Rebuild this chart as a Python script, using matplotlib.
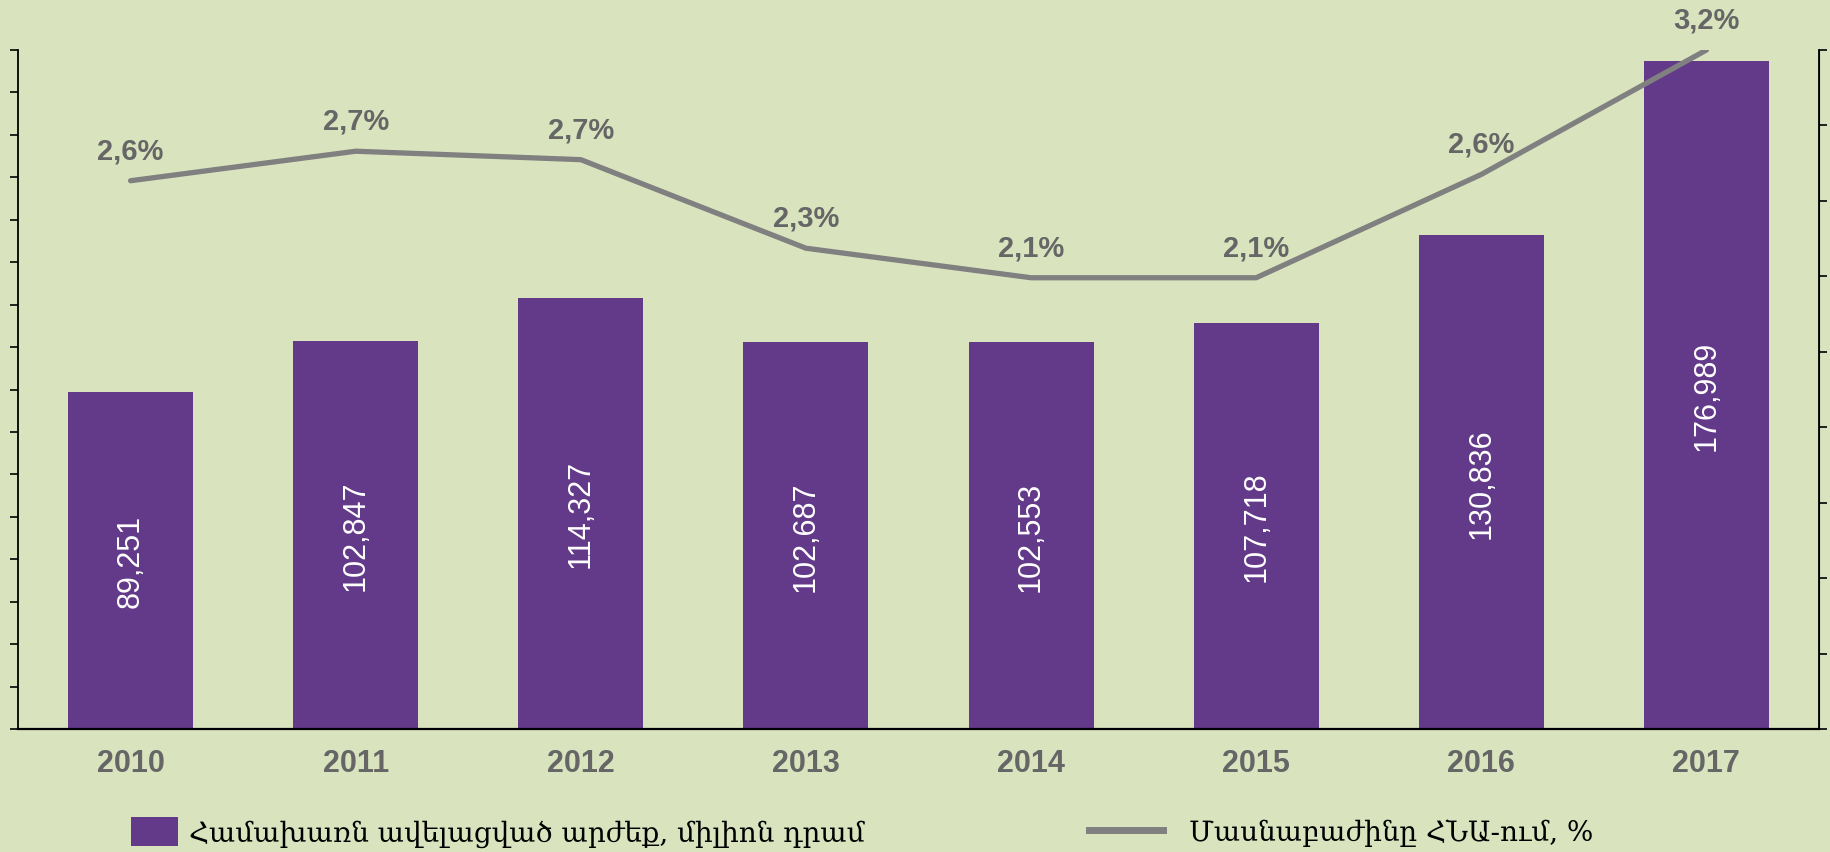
import matplotlib.pyplot as plt
from matplotlib.patches import Patch
from matplotlib.lines import Line2D

years = ["2010", "2011", "2012", "2013", "2014", "2015", "2016", "2017"]
value_added = [89251, 102847, 114327, 102687, 102553, 107718, 130836, 176989]
gdp_share = [2.60, 2.74, 2.70, 2.28, 2.14, 2.14, 2.63, 3.22]

bar_label = "Համախառն ավելացված արժեք, միլիոն դրամ"
line_label = "Մասնաբաժինը ՀՆԱ-ում, %"

bg = "#D9E4BF"
purple = "#633A89"
gray_line = "#808080"
gray_text = "#666666"

fig = plt.figure(figsize=(18.31, 8.53), dpi=100, facecolor=bg)
ax = fig.add_axes([18 / 1831, 1 - 730 / 853, 1801 / 1831, 679 / 853])
ax.set_facecolor(bg)

x = range(len(years))
ax.bar(x, value_added, width=0.555, color=purple, zorder=2)
ax.set_xlim(-0.5, len(years) - 0.5)
ax.set_ylim(0, 180000)
ax.set_yticks([i * 11250 for i in range(17)])
ax.set_yticklabels([])
ax.tick_params(axis="y", direction="out", length=6, width=1.2, color="black")
ax.set_xticks(list(x))
ax.set_xticklabels(years, fontsize=22, fontweight="bold", color=gray_text,
                   family="Liberation Sans")
ax.tick_params(axis="x", length=0, pad=14)
ax.spines["top"].set_visible(False)
ax.spines["left"].set_linewidth(1.3)
ax.spines["bottom"].set_linewidth(1.6)

for i, v in enumerate(value_added):
    ax.text(i, v / 2, f"{v:,}", rotation=90, ha="center", va="center",
            color="white", fontsize=22, family="Liberation Sans")

ax2 = ax.twinx()
ax2.plot(list(x), gdp_share, color=gray_line, linewidth=3.8, solid_capstyle="round")
ax2.set_ylim(0, 3.22)
ax2.set_yticks([i * 3.22 / 9 for i in range(10)])
ax2.set_yticklabels([])
ax2.tick_params(axis="y", direction="out", length=6, width=1.2, color="black")
ax2.spines["top"].set_visible(False)
ax2.spines["left"].set_visible(False)
ax2.spines["bottom"].set_visible(False)
ax2.spines["right"].set_linewidth(1.3)

for i, v in enumerate(gdp_share):
    ax2.annotate(f"{v:.1f}%".replace(".", ","), (i, v), xytext=(0, 22),
                 textcoords="offset points", ha="center", va="center",
                 fontsize=21, fontweight="bold", color=gray_text,
                 family="Liberation Sans", annotation_clip=False)

legend_font = {"family": "DejaVu Serif", "size": 20}
fig.legend(handles=[Patch(facecolor=purple, edgecolor="none")], labels=[bar_label],
           loc="center left", bbox_to_anchor=(131 / 1831, 1 - 833 / 853),
           frameon=False, borderpad=0, borderaxespad=0,
           handlelength=1.7, handleheight=1.25, handletextpad=0.4,
           prop=legend_font)
fig.legend(handles=[Line2D([], [], color=gray_line, linewidth=5)], labels=[line_label],
           loc="center left", bbox_to_anchor=(1089 / 1831, 1 - 833 / 853),
           frameon=False, borderpad=0, borderaxespad=0,
           handlelength=2.65, handletextpad=0.95,
           prop=legend_font)

fig.savefig("out.png", dpi=100, facecolor=bg)
